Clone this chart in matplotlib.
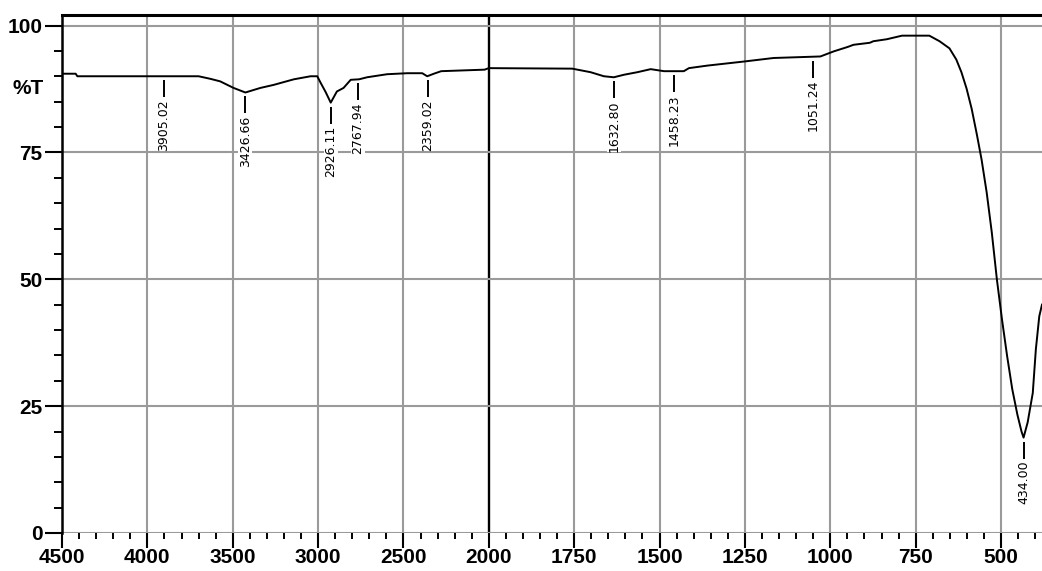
import numpy as np
import matplotlib
matplotlib.use("Agg")
import matplotlib.pyplot as plt
from matplotlib.ticker import FixedLocator, NullFormatter, FixedFormatter

plt.rcParams['font.family'] = ['Liberation Sans', 'DejaVu Sans']

# ---- data ----
wavenumber = [4500, 4420, 4410, 3700, 3632, 3574, 3495, 3426, 3338, 3260, 3142, 3044,
              3005, 2985, 2956, 2926, 2890, 2851, 2809, 2760, 2713, 2596, 2478, 2390,
              2361, 2322, 2279, 2025, 2000, 1756, 1702, 1663, 1634, 1604, 1565, 1526,
              1487, 1429, 1414, 1360, 1253, 1166, 1029, 990, 948, 932, 884, 874, 834,
              790, 710, 680, 651, 631, 616, 601, 586, 571, 557, 542, 527, 512, 497,
              482, 467, 452, 440, 434, 422, 407, 398, 388, 380]
transmittance = [90.5, 90.5, 90.0, 90.0, 89.5, 89.0, 87.7, 86.8, 87.7, 88.3, 89.4, 90.0,
                 90.0, 88.7, 86.9, 84.8, 87.0, 87.7, 89.3, 89.4, 89.8, 90.4, 90.6, 90.6,
                 90.0, 90.5, 91.0, 91.3, 91.6, 91.5, 90.8, 90.0, 89.8, 90.3, 90.8, 91.4,
                 91.0, 91.0, 91.6, 92.1, 92.9, 93.6, 93.9, 94.9, 95.8, 96.2, 96.6, 96.9, 97.3,
                 98.0, 98.0, 96.9, 95.5, 93.3, 90.8, 87.6, 83.6, 78.6, 73.6, 67.1, 59.2, 49.9, 42.0,
                 34.8, 28.3, 23.3, 20.0, 18.8, 21.8, 27.6, 36.2, 42.7, 45.0]

peak_positions = [3905.02, 3426.66, 2926.11, 2767.94, 2359.02, 1632.80, 1458.23, 1051.24, 434.00]

x_major = [4500, 4000, 3500, 3000, 2500, 2000, 1750, 1500, 1250, 1000, 750, 500]
x_minor_left = list(range(4400, 2000, -100))
x_minor_right = list(range(1950, 379, -50))
y_major = [0, 25, 50, 75, 100]
y_minor = list(range(5, 100, 5))
y_label = "%T"

# ---- split x scale: 4500-2000 compressed 2x vs 2000-380 ----
def fwd(x):
    x = np.asarray(x, dtype=float)
    return np.where(x >= 2000, x, 2 * x - 2000)

def inv(u):
    u = np.asarray(u, dtype=float)
    return np.where(u >= 2000, u, (u + 2000) / 2)

W, H = 1042, 571
fig = plt.figure(figsize=(W / 100, H / 100), dpi=100)
ax = fig.add_axes([62 / W, 38 / H, 980 / W, 518 / H])
ax.set_xscale('function', functions=(fwd, inv))
ax.set_xlim(4500, 380)
ax.set_ylim(0, 102.07)

grid_gray = '#9a9a9a'
for xv in x_major:
    if xv == 2000:
        ax.axvline(xv, color='black', lw=1.7, zorder=1)
    elif xv != 4500:
        ax.axvline(xv, color=grid_gray, lw=1.5, zorder=1)
for yv in y_major:
    ax.axhline(yv, color=grid_gray, lw=1.5, zorder=1)

ax.plot(wavenumber, transmittance, color='black', lw=1.4, zorder=3)

# ticks
ax.xaxis.set_major_locator(FixedLocator(x_major))
ax.xaxis.set_major_formatter(FixedFormatter([str(v) for v in x_major]))
ax.xaxis.set_minor_locator(FixedLocator(x_minor_left + x_minor_right))
ax.xaxis.set_minor_formatter(NullFormatter())
ax.yaxis.set_major_locator(FixedLocator(y_major))
ax.yaxis.set_major_formatter(FixedFormatter([str(v) for v in y_major]))
ax.yaxis.set_minor_locator(FixedLocator(y_minor))

ax.tick_params(axis='x', which='major', direction='out', length=11, width=1.5,
               pad=0, labelsize=15, colors='black')
ax.tick_params(axis='x', which='minor', direction='out', length=4.5, width=1.4)
ax.tick_params(axis='y', which='major', direction='out', length=12, width=1.5,
               pad=2, labelsize=15)
ax.tick_params(axis='y', which='minor', direction='out', length=6, width=1.4)
for lab in ax.get_xticklabels() + ax.get_yticklabels():
    lab.set_fontweight('bold')

for s in ['right', 'bottom']:
    ax.spines[s].set_visible(False)
ax.spines['left'].set_linewidth(1.8)
ax.spines['top'].set_linewidth(2.2)
ax.spines['left'].set_zorder(4)

fig.text(28 / W, 1 - 88.5 / H, y_label, ha='center', va='center', fontsize=15,
         fontweight='bold')

# peak annotations
fig.canvas.draw()
tinv = ax.transData.inverted()
order = np.argsort(wavenumber)
wn_sorted = np.array(wavenumber)[order]
t_sorted = np.array(transmittance)[order]
for pk in peak_positions:
    tv = float(np.interp(pk, wn_sorted, t_sorted))
    px, py = ax.transData.transform((pk, tv))
    _, y1 = tinv.transform((px, py - 4))
    _, y2 = tinv.transform((px, py - 21))
    _, y3 = tinv.transform((px, py - 23))
    ax.plot([pk, pk], [y1, y2], color='black', lw=1.4, zorder=3, solid_capstyle='butt')
    ax.text(pk, y3, f"{pk:.2f}", rotation=90, ha='center', va='top',
            fontsize=9, family=['DejaVu Sans'], zorder=5,
            bbox=dict(facecolor='white', edgecolor='none', pad=0.3))

fig.savefig('out.png', dpi=100)
